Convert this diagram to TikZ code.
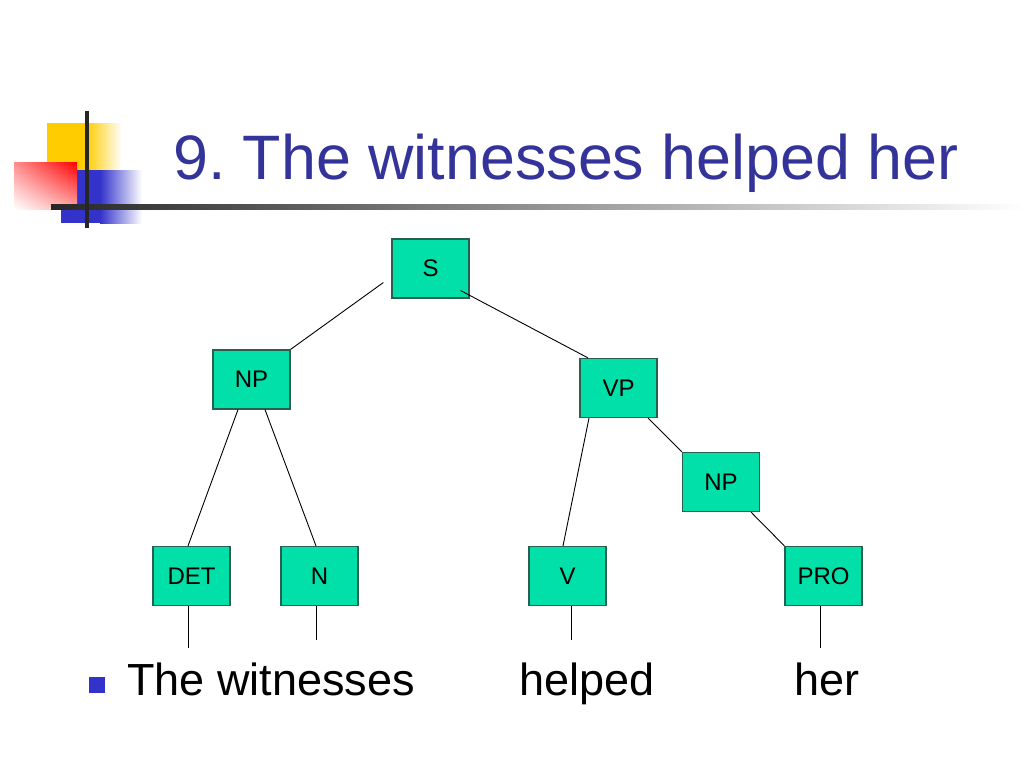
\documentclass[tikz,border=0pt]{standalone}
\usepackage{fontspec}
\setmainfont{Liberation Sans}
\usetikzlibrary{calc,shadings}
\definecolor{boxfill}{RGB}{0,224,168}
\definecolor{boxline}{RGB}{40,95,80}
\definecolor{titleblue}{RGB}{51,51,153}
\definecolor{bulletblue}{RGB}{51,51,204}
\definecolor{logoyellow}{RGB}{255,204,0}
\definecolor{logored}{RGB}{255,0,0}
\definecolor{logoblue}{RGB}{51,51,204}
\begin{document}
\frenchspacing
\begin{tikzpicture}[x=1pt,y=-1pt,
  cat/.style={draw=boxline, line width=1.2pt, fill=boxfill, minimum width=77pt, minimum height=59pt, inner sep=0pt, font=\fontsize{24}{28}\selectfont},
  edge/.style={line width=0.9pt, black},
  word/.style={anchor=base west, inner sep=0pt, font=\fontsize{45}{54}\selectfont}]
\useasboundingbox[fill=white] (0,0) rectangle (1024,768);
% logo
\fill[logoyellow] (47,123) rectangle (86,170);
\shade[left color=logoyellow, right color=white] (86,123) rectangle (122,170);
\fill[logoblue] (61,170) rectangle (100,223);
\shade[left color=logoblue, right color=white] (100,170) rectangle (142,223);
\shade[upper left=logored!45, upper right=logored, lower left=white, lower right=logored!35] (14,162) rectangle (77,209);
\shade[left color=black!85, right color=white] (51,204) rectangle (1024,209);
\fill[black!85] (85,111) rectangle (89,228);
% title
\node[anchor=base west, inner sep=0pt, text=titleblue, font=\fontsize{62.8}{70}\selectfont] (title) at (173,179) {9.\ The witnesses helped her};
% tree nodes
\node[cat] (S) at (430.5,268.5) {S};
\node[cat] (NP1) at (251.5,379.5) {NP};
\node[cat] (VP) at (618.5,388) {VP};
\node[cat] (NP2) at (721,482) {NP};
\node[cat] (DET) at (191.5,576) {DET};
\node[cat] (N) at (319.5,576) {N};
\node[cat] (V) at (567.5,576) {V};
\node[cat] (PRO) at (823.5,576) {PRO};
% leaf ends
\coordinate (e1) at (188,648);
\coordinate (e2) at (316,640);
\coordinate (e3) at (571,640);
\coordinate (e4) at (820,648);
% edges
\draw[edge] ($(S.west)+(-8,14)$) -- (NP1.north east);
\draw[edge] ($(S.center)+(30,22)$) -- ($(VP.north)+(-30.5,0)$);
\draw[edge] ($(NP1.south)+(-13.5,0)$) -- ($(DET.north)+(-3.5,0)$);
\draw[edge] ($(NP1.south)+(13.5,0)$) -- ($(N.north)+(-3.5,0)$);
\draw[edge] ($(VP.south)+(-29.5,0)$) -- ($(V.north)+(-4.5,0)$);
\draw[edge] ($(VP.south)+(29.5,0)$) -- (NP2.north west);
\draw[edge] ($(NP2.south)+(30,0)$) -- (PRO.north west);
\draw[edge] ($(DET.south)+(-3.5,0)$) -- (e1);
\draw[edge] ($(N.south)+(-3.5,0)$) -- (e2);
\draw[edge] ($(V.south)+(3.5,0)$) -- (e3);
\draw[edge] ($(PRO.south)+(-3.5,0)$) -- (e4);
% words
\node[fill=bulletblue, minimum size=16pt, inner sep=0pt] (bullet) at (97,685) {};
\node[word] (w1) at (127,695) {The witnesses};
\node[word] (w2) at (519,695) {helped};
\node[word] (w3) at (794,695) {her};
\end{tikzpicture}
\end{document}
